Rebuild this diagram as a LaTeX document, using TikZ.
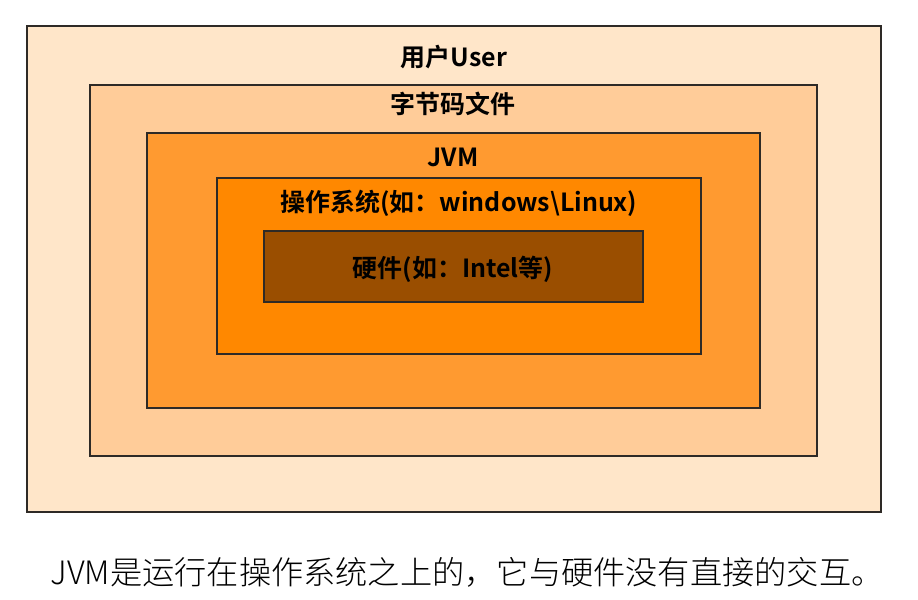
\documentclass[tikz,border=0pt]{standalone}
\usepackage{fontspec}
\usepackage{tikz}
\usetikzlibrary{positioning}
\newfontfamily\cjkbold{Noto Sans CJK SC Bold}
\newfontfamily\cjkplain{Noto Sans CJK SC Light}
\definecolor{userfill}{HTML}{FFE6C9}
\definecolor{codefill}{HTML}{FFCC99}
\definecolor{jvmfill}{HTML}{FF9A30}
\definecolor{osfill}{HTML}{FF8800}
\definecolor{hwfill}{HTML}{9A4E00}
\definecolor{edgegray}{HTML}{2E2A26}
\begin{document}
\begin{tikzpicture}[x=0.03cm,y=-0.03cm]
    \tikzset{
        layer node/.style={rectangle, draw=edgegray, line width=1.4pt, inner sep=0pt},
        title node/.style={font=\cjkbold\fontsize{21.3}{24}\selectfont, text=black, inner sep=0pt},
        note node/.style={font=\cjkplain\fontsize{27.5}{30}\selectfont, text=black, inner sep=0pt}
      }
\useasboundingbox (0,0) rectangle (918,600);
% nested layers, outermost first
\node(user)[layer node, fill=userfill, minimum width=854*0.03cm, minimum height=486*0.03cm] at (454,269) {};
\node(code)[layer node, fill=codefill, minimum width=727*0.03cm, minimum height=371*0.03cm] at (453.5,270.5) {};
\node(jvm)[layer node, fill=jvmfill, minimum width=613*0.03cm, minimum height=275*0.03cm] at (453.5,270.5) {};
\node(os)[layer node, fill=osfill, minimum width=484*0.03cm, minimum height=176*0.03cm] at (459,266) {};
\node(hw)[layer node, fill=hwfill, minimum width=379*0.03cm, minimum height=71*0.03cm] at (453.5,266.5) {};
% titles
\node(user label)[title node] at (454,57) {用户User};
\node(code label)[title node] at (453,104) {字节码文件};
\node(jvm label)[title node] at (453,157) {JVM};
\node(os label)[title node] at (459,203) {操作系统(如：windows\textbackslash Linux)};
\node(hw label)[title node] at (453,269) {硬件(如：Intel等)};
% caption
\node(note)[note node] at (467,572) {JVM是运行在操作系统之上的，它与硬件没有直接的交互。};
\end{tikzpicture}
\end{document}
